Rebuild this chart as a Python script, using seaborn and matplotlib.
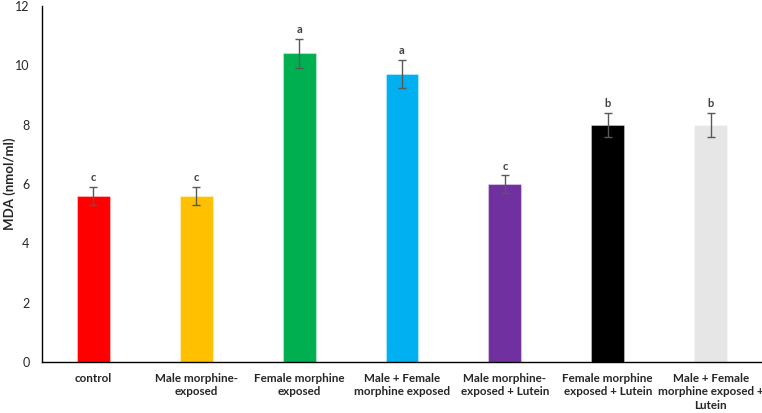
import matplotlib
matplotlib.use("Agg")
import matplotlib.pyplot as plt
import numpy as np
import pandas as pd
import seaborn as sns

# data ---------------------------------------------------------------
groups = ['control', 'Male morphine-\nexposed', 'Female morphine\nexposed',
          'Male + Female\nmorphine exposed', 'Male morphine-\nexposed + Lutein',
          'Female morphine\nexposed + Lutein', 'Male + Female\nmorphine exposed +\nLutein']
mda = [5.6, 5.6, 10.4, 9.7, 6.0, 8.0, 8.0]
err = [0.3, 0.3, 0.5, 0.48, 0.3, 0.4, 0.4]
letters = ['c', 'c', 'a', 'a', 'c', 'b', 'b']
colors = ['#FF0000', '#FFC000', '#00B050', '#00B0F0', '#7030A0', '#000000', '#E7E6E6']

df = pd.DataFrame({'group': groups, 'mda': mda})

sns.set_style('white')
plt.rcParams['font.family'] = ['Lato', 'DejaVu Sans']
plt.rcParams['font.size'] = 9

fig = plt.figure(figsize=(7.62, 4.13), dpi=100)
ax = fig.add_axes([0.0551, 0.1235, 0.9449, 0.862])

sns.barplot(data=df, x='group', y='mda', hue='group', palette=colors,
            legend=False, width=0.32, saturation=1, ax=ax)
for p in ax.patches:
    p.set_edgecolor((1, 1, 1, 0.35))
    p.set_linewidth(0.8)

xs = np.arange(len(groups))
ax.errorbar(xs, mda, yerr=err, fmt='none', ecolor='#595959',
            elinewidth=1, capsize=3, capthick=1)
for x, v, e, t in zip(xs, mda, err, letters):
    ax.text(x, v + e + 0.12, t, ha='center', va='bottom', fontsize=8,
            fontweight='bold', color='#404040')

ax.set_xlim(-0.5, 6.5)
ax.set_ylim(0, 12)
ax.set_yticks(range(0, 13, 2))
ax.set_xlabel('')
ax.set_ylabel('MDA (nmol/ml)', fontweight='bold', fontsize=9.5, va='center')
ax.yaxis.set_label_coords(-0.045, 0.5)
ax.tick_params(axis='both', length=0, labelsize=9)
ax.tick_params(axis='y', pad=9)
ax.tick_params(axis='x', pad=8, labelsize=8.4)
for lbl in ax.get_xticklabels():
    lbl.set_fontweight('bold')
    lbl.set_linespacing(1.25)

sns.despine(ax=ax, top=True, right=True)
ax.spines['left'].set_color('black')
ax.spines['bottom'].set_color('black')
ax.spines['left'].set_linewidth(1)
ax.spines['bottom'].set_linewidth(1)

fig.savefig('out.png', dpi=100)
